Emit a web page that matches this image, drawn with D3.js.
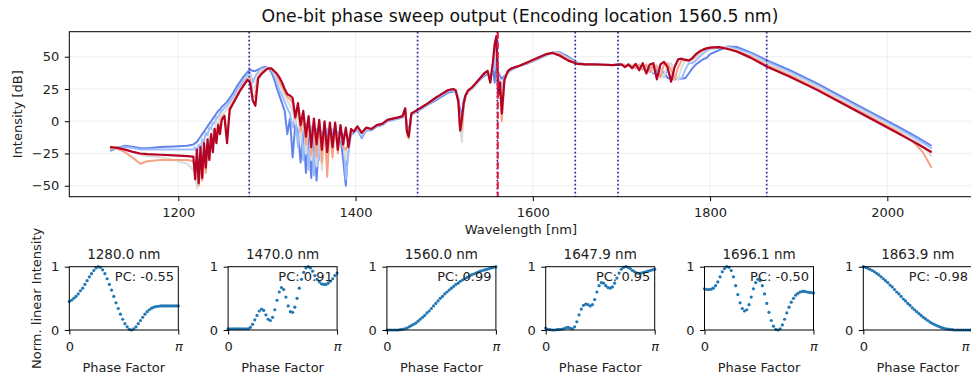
<!DOCTYPE html>
<html>
<head>
<meta charset="utf-8">
<script src="https://cdn.jsdelivr.net/npm/d3@7"></script>
<style>
  body { margin: 0; background: #fff; }
  svg { display: block; font-family: "DejaVu Sans", sans-serif; }
</style>
</head>
<body>
<svg id="chart" width="971" height="374"></svg>
<script>
// wavelength grid of the sweep curves (nm)
var wavelengthNm = [
  1123, 1130, 1140, 1150, 1157, 1165, 1180, 1195, 1210, 1217,
  1219, 1221, 1223, 1225, 1227, 1229, 1231, 1233, 1235, 1237, 1239, 1241, 1243, 1245, 1247, 1249,
  1252, 1255, 1258, 1262, 1266, 1270, 1274, 1278,
  1281, 1284, 1287, 1290, 1293, 1296, 1299, 1302, 1305, 1308, 1311, 1314, 1317, 1320, 1323, 1326, 1329, 1332, 1335, 1338,
  1341, 1344, 1347, 1350, 1353, 1356, 1359, 1362, 1365, 1368, 1371, 1374, 1377, 1380, 1383, 1386, 1389, 1392, 1395, 1398,
  1402, 1407, 1412, 1418, 1424, 1430, 1436, 1442, 1448, 1453, 1456, 1458, 1460, 1463, 1468, 1475, 1482, 1490, 1497, 1504, 1510,
  1513, 1516, 1518, 1520, 1522, 1524, 1527, 1531, 1535, 1540, 1545, 1549, 1552, 1555, 1557, 1559, 1561, 1563, 1565, 1568, 1572, 1576,
  1585, 1595, 1605, 1615, 1622, 1630, 1640, 1650, 1660, 1670, 1680, 1690,
  1700, 1704, 1708, 1712, 1716, 1720, 1724, 1728, 1732, 1736, 1740, 1744, 1748, 1752, 1756, 1760, 1764, 1768, 1772, 1776,
  1780, 1784, 1788, 1792, 1796, 1800,
  1810, 1820, 1830, 1845, 1865, 1890, 1920, 1950, 1980, 2010, 2030, 2040, 2050
];

// intensity (dB) for five phase steps of the sweep, first to last
var sweepStep0 = [
  -23, -21, -19, -20, -21, -21, -20, -19.5, -19, -18,
  -17, -16, -14, -12, -10, -8, -6, -4, -2, 0, 2, 4, 6, 8, 9, 11,
  13, 15, 18, 22, 27, 31, 35, 38,
  40, 39, 39, 40, 41, 42, 42, 41, 38, 33, 26, 20, 14, 8, -10, 2, -28, -2, -8, -32,
  -6, -40, -8, -44, -10, -46, -10, -14, -8, -12, -8, -10, -8, -10, -12, -30, -50, -15, -10, -9,
  -6, -13, -7, -7, -4, -3, 0, 1, 2, 3, 8, -4, -8, 5, 7, 10, 13, 16, 19, 22, 23,
  23, 18, 8, 5, 16, 20, 23, 25, 28, 32, 35, 37, 33, 40, 30, 55, 38, 35, 33, 35, 38, 40,
  43, 45, 48, 51, 53, 53.5, 50, 45.5, 44, 44, 43.8, 43.5,
  44, 43, 44, 42.5, 44, 41, 44, 39, 43, 37, 40, 35, 38, 33.5, 33, 33, 33, 33, 33.5, 37,
  41, 44, 46, 48, 49, 52,
  55, 58, 57.5, 53.5, 47, 39.5, 29.5, 18.5, 7.5, -3.5, -11, -15, -19
];
var sweepStep1 = [
  -22, -20.5, -20, -21, -22, -22, -22, -22, -22, -22,
  -20, -24, -18, -22, -14, -16, -9, -11, -5, -6, -1, -2, 3, 3, 6, 8,
  10, 12, 15, 19, 24, 28, 32, 36,
  38, 30, 35, 38, 40, 41, 41, 41, 40, 36, 31, 24, 20, 15, 10, 6, -5, 4, -20, 2,
  -30, -2, -38, -4, -42, -6, -30, -8, -18, -6, -14, -6, -12, -8, -15, -10, -45, -25, -9, -8,
  -5, -12, -6, -7, -4, -3, 0, 1, 2, 3, 9, -6, -10, 5, 7, 10, 13, 17, 20, 23, 24,
  23, 17, 2, 0, 15, 20, 23, 25, 28, 32, 36, 38, 32, 42, 40, 60, 30, 33, 25, 34, 38, 40,
  43, 45.5, 48.5, 51.5, 53, 53, 49, 45, 44, 44, 43.8, 43.5,
  44, 43.5, 43, 43.5, 42, 43, 40, 43, 38, 42, 36, 41, 34, 40, 33, 36, 33, 33, 40, 45,
  45, 47, 50, 52.5, 54.5, 56,
  57, 57.5, 56, 52.5, 45.5, 38, 28, 17, 6, -5, -12.5, -16.5, -21
];
var sweepStep2 = [
  -21, -21, -22, -24, -26, -27, -28, -30, -33, -38,
  -40, -52, -30, -45, -25, -35, -18, -25, -12, -16, -6, -8, 0, -2, 4, 5,
  7, 9, 12, 16, 21, 25, 29, 34,
  36, 24, 28, 36, 39, 40, 41, 41, 40, 38, 34, 28, 24, 20, 16, 12, 8, -2, 8, -15,
  4, -25, 2, -30, 0, -35, -2, -38, -4, -30, -4, -25, -4, -20, -6, -15, -30, -12, -8, -8,
  -5, -10, -6, -6, -3, -2, 1, 2, 3, 4, 9, -10, -14, 5, 8, 11, 14, 18, 21, 24, 25,
  24, 16, -5, -16, 10, 19, 23, 25, 28, 33, 37, 38, 31, 44, 50, 64, 25, 32, 15, 33, 39, 41,
  43, 45.5, 48.5, 51.5, 53, 52.5, 48.5, 45, 44, 44, 43.8, 43.5,
  44, 44, 42.5, 44, 43, 41, 44, 40, 44, 38, 44, 40, 35, 44, 45, 37, 32, 42, 47, 47,
  47, 49.5, 52.5, 54.5, 56, 57,
  57.5, 57, 55, 51.5, 44.5, 37, 27, 16, 5, -6, -14, -19, -27
];
var sweepStep3 = [
  -21, -21, -24, -29, -33, -31, -30, -30, -30, -31,
  -38, -30, -50, -28, -46, -24, -40, -20, -30, -12, -20, -6, -12, -2, -6, 3,
  5, -12, 10, 15, 20, 25, 29, 33,
  33, 18, 20, 34, 37, 39, 40, 41, 40, 39, 36, 31, 27, 23, 19, 17, 14, 2, 12, -8,
  6, -18, 3, -26, 1, -28, 0, -32, -2, -43, -3, -28, -3, -25, -4, -20, -22, -16, -7, -8,
  -4, -9, -5, -6, -3, -2, 1, 2, 3, 4, 10, -9, -13, 6, 8, 11, 14, 18, 21, 24, 25,
  24, 15, -8, -6, 12, 19, 23, 26, 29, 33, 37, 39, 30, 45, 58, 66, 22, 31, 0, 33, 39, 41,
  43, 46, 49, 52, 53, 52, 48, 44.5, 44, 44, 43.8, 43.5,
  44, 43, 43, 43, 41, 44, 40, 44, 38, 44, 42, 34, 44, 45, 40, 32, 42, 47, 48, 47.5,
  48, 51, 53.5, 55, 56.5, 57,
  57.5, 56.5, 54.5, 50.5, 43, 35.5, 25.5, 14.5, 3.5, -7.5, -16.5, -24, -36
];
var sweepStep4 = [
  -20, -20.5, -22, -24, -25, -25.5, -26, -26.5, -27, -27.5,
  -45, -22, -48, -20, -44, -17, -36, -14, -30, -10, -24, -6, -17, -3, -10, 1,
  4, -17, 9, 14, 19, 24, 28, 32,
  30, 16, 12, 33, 36, 38, 40, 41, 41, 39, 37, 34, 30, 25, 21, 20, 18, 3, 14, -3,
  8, -12, 4, -20, 2, -18, 1, -22, 0, -24, -1, -20, -1, -22, -3, -18, -5, -20, -6, -8,
  -4, -9, -5, -6, -3, -2, 1, 2, 3, 4, 10, -8, -12, 6, 8, 11, 14, 18, 21, 24, 25,
  24, 15, -7, 2, 14, 20, 24, 26, 29, 33, 37, 39, 30, 46, 60, 66, 20, 30, 6, 32, 39, 41,
  43, 46, 49, 52, 53, 51, 47, 44.5, 44, 44, 43.8, 43.5,
  44, 42, 44, 41, 44.5, 39.5, 45, 37, 44, 45, 32.5, 44, 46, 42, 30.6, 42, 48, 48.5, 47.5, 47,
  49, 52, 54, 55.5, 56.5, 57,
  57.5, 56, 54, 49.5, 42, 34.5, 24.5, 13.5, 2.5, -8.5, -16, -20, -24
];

var encodingNm = 1560.5;
var probeNm = [1280.0, 1470.0, 1560.0, 1647.9, 1696.1, 1863.9];
var probePC = [-0.55, 0.91, 0.99, 0.95, -0.50, -0.98];

// normalised linear intensity at each probe wavelength, 50 phase steps from 0 to pi
var probe1280 = [0.45, 0.47, 0.50, 0.53, 0.57, 0.62, 0.66, 0.72, 0.78, 0.84, 0.89, 0.94, 0.98, 1.00, 0.99, 0.95, 0.89, 0.81, 0.72, 0.63,
  0.53, 0.43, 0.34, 0.25, 0.17, 0.10, 0.05, 0.01, 0.00, 0.02, 0.05, 0.10, 0.15, 0.20, 0.25, 0.29, 0.32, 0.345, 0.36, 0.37,
  0.375, 0.38, 0.38, 0.38, 0.38, 0.38, 0.38, 0.38, 0.38, 0.38];
var probe1470 = [0.02, 0.02, 0.02, 0.02, 0.02, 0.02, 0.02, 0.02, 0.02, 0.02, 0.04, 0.09, 0.16, 0.23, 0.30, 0.33, 0.31, 0.24, 0.17, 0.15,
  0.20, 0.32, 0.47, 0.60, 0.67, 0.64, 0.52, 0.38, 0.29, 0.28, 0.36, 0.50, 0.66, 0.80, 0.91, 0.98, 1.00, 0.98, 0.93, 0.86,
  0.80, 0.76, 0.73, 0.72, 0.72, 0.74, 0.77, 0.81, 0.86, 0.90];
var probe1560 = [0.0, 0.0, 0.0, 0.0, 0.0, 0.0, 0.005, 0.01, 0.02, 0.03, 0.05, 0.07, 0.09, 0.11, 0.14, 0.17, 0.20, 0.23, 0.27, 0.30,
  0.34, 0.38, 0.42, 0.46, 0.50, 0.53, 0.57, 0.60, 0.63, 0.66, 0.69, 0.72, 0.74, 0.77, 0.79, 0.81, 0.83, 0.85, 0.87, 0.885,
  0.90, 0.915, 0.93, 0.94, 0.95, 0.96, 0.97, 0.98, 0.99, 1.0];
var probe1648 = [0.03, 0.01, 0.005, 0.0, 0.0, 0.005, 0.01, 0.01, 0.02, 0.035, 0.04, 0.03, 0.02, 0.05, 0.13, 0.24, 0.33, 0.39, 0.41, 0.40,
  0.38, 0.40, 0.48, 0.60, 0.70, 0.75, 0.74, 0.70, 0.67, 0.66, 0.68, 0.74, 0.82, 0.90, 0.96, 0.99, 1.0, 0.99, 0.97, 0.94,
  0.92, 0.90, 0.895, 0.90, 0.91, 0.92, 0.93, 0.94, 0.95, 0.96];
var probe1696 = [0.65, 0.64, 0.64, 0.645, 0.66, 0.70, 0.76, 0.84, 0.92, 0.97, 1.0, 0.99, 0.94, 0.84, 0.70, 0.56, 0.43, 0.34, 0.30, 0.32,
  0.40, 0.52, 0.65, 0.75, 0.80, 0.78, 0.70, 0.57, 0.42, 0.28, 0.15, 0.06, 0.01, 0.0, 0.02, 0.08, 0.17, 0.27, 0.36, 0.44,
  0.50, 0.55, 0.58, 0.60, 0.61, 0.61, 0.60, 0.595, 0.59, 0.585];
var probe1864 = [1.0, 0.99, 0.975, 0.96, 0.94, 0.92, 0.895, 0.87, 0.84, 0.81, 0.78, 0.75, 0.71, 0.68, 0.64, 0.60, 0.57, 0.53, 0.49, 0.46,
  0.42, 0.39, 0.35, 0.32, 0.29, 0.26, 0.23, 0.20, 0.175, 0.15, 0.125, 0.105, 0.085, 0.07, 0.055, 0.04, 0.03, 0.02, 0.015, 0.01,
  0.005, 0.0, 0.0, 0.0, 0.0, 0.0, 0.0, 0.0, 0.0, 0.0];

var sweep = [sweepStep0, sweepStep1, sweepStep2, sweepStep3, sweepStep4];
var probes = [probe1280, probe1470, probe1560, probe1648, probe1696, probe1864];
var sweepColors = ["#6384eb", "#9dbdfe", "#dcdcdc", "#f5a385", "#b40426"];

sweep.forEach(function(s, i) {
  if (s.length !== wavelengthNm.length) console.warn("sweep", i, s.length, wavelengthNm.length);
});

var svg = d3.select("#chart");
var font = 13;

// ---- top panel ----
var box = {left: 69.3, right: 972.4, top: 31.7, bottom: 196.7};

var x = d3.scaleLinear().domain([1077, 2096]).range([box.left, box.right]);
var y = d3.scaleLinear().domain([-58.5, 69.4]).range([box.bottom, box.top]);

svg.append("text")
    .attr("x", 520)
    .attr("y", 22)
    .attr("text-anchor", "middle")
    .attr("font-size", 17.3)
    .attr("fill", "#111")
    .text("One-bit phase sweep output (Encoding location " + encodingNm.toFixed(1) + " nm)");

svg.append("defs").append("clipPath").attr("id", "clipTop")
  .append("rect")
    .attr("x", box.left).attr("y", box.top)
    .attr("width", box.right - box.left).attr("height", box.bottom - box.top);

var xTicks = [1200, 1400, 1600, 1800, 2000];
var yTicks = [-50, -25, 0, 25, 50];

var grid = svg.append("g").attr("stroke", "#ebebeb").attr("stroke-width", 0.8);
grid.selectAll(".gx").data(xTicks).enter().append("line")
    .attr("x1", d => x(d)).attr("x2", d => x(d))
    .attr("y1", box.top).attr("y2", box.bottom);
grid.selectAll(".gy").data(yTicks).enter().append("line")
    .attr("x1", box.left).attr("x2", box.right)
    .attr("y1", d => y(d)).attr("y2", d => y(d));

var line = d3.line()
    .x((d, i) => x(wavelengthNm[i]))
    .y(d => y(d));

svg.append("g").attr("clip-path", "url(#clipTop)")
  .selectAll("path").data(sweep).enter().append("path")
    .attr("d", line)
    .attr("fill", "none")
    .attr("stroke", (d, i) => sweepColors[i])
    .attr("stroke-width", (d, i) => i === sweep.length - 1 ? 2.2 : 2.0)
    .attr("stroke-linejoin", "round");

// probe wavelengths and encoding location
svg.append("g").selectAll("line").data(probeNm).enter().append("line")
    .attr("x1", d => x(d)).attr("x2", d => x(d))
    .attr("y1", box.top).attr("y2", box.bottom)
    .attr("stroke", "#2a2a9e")
    .attr("stroke-width", 1.7)
    .attr("stroke-dasharray", "1.7,2.3");

svg.append("line")
    .attr("x1", x(encodingNm)).attr("x2", x(encodingNm))
    .attr("y1", box.top).attr("y2", box.bottom)
    .attr("stroke", "#e8183c")
    .attr("stroke-width", 2)
    .attr("stroke-dasharray", "7,3");

svg.append("rect")
    .attr("x", box.left).attr("y", box.top)
    .attr("width", box.right - box.left).attr("height", box.bottom - box.top)
    .attr("fill", "none").attr("stroke", "#000").attr("stroke-width", 1);

function styleAxis(g) {
  g.select(".domain").remove();
  g.selectAll(".tick line").attr("stroke", "#000").attr("stroke-width", 1);
  g.selectAll(".tick text").attr("fill", "#222").attr("font-size", font)
    .attr("font-family", "DejaVu Sans");
}

svg.append("g")
    .attr("transform", "translate(0," + box.bottom + ")")
    .call(d3.axisBottom(x).tickValues(xTicks).tickSize(4.5).tickPadding(7).tickFormat(d3.format("d")))
    .call(styleAxis);

svg.append("g")
    .attr("transform", "translate(" + box.left + ",0)")
    .call(d3.axisLeft(y).tickValues(yTicks).tickSize(4.5).tickPadding(5.5))
    .call(styleAxis);

svg.append("text")
    .attr("x", (box.left + box.right) / 2)
    .attr("y", 234)
    .attr("text-anchor", "middle")
    .attr("font-size", font)
    .attr("fill", "#222")
    .text("Wavelength [nm]");

svg.append("text")
    .attr("transform", "translate(22," + (box.top + box.bottom) / 2 + ") rotate(-90)")
    .attr("text-anchor", "middle")
    .attr("font-size", font)
    .attr("fill", "#222")
    .text("Intensity [dB]");

// ---- probe panels ----
var panelTop = 266.7, panelBottom = 330, panelWidth = 109, panelStep = 158.8, panelLeft0 = 69.3;
var phases = d3.range(probe1280.length).map(i => i / (probe1280.length - 1) * Math.PI);

probes.forEach(function(values, k) {
  var L = panelLeft0 + k * panelStep;
  var px = d3.scaleLinear().domain([0, Math.PI]).range([L, L + panelWidth]);
  var py = d3.scaleLinear().domain([0, 1]).range([panelBottom, panelTop]);
  var g = svg.append("g");

  g.append("text")
      .attr("x", L + panelWidth / 2)
      .attr("y", 259)
      .attr("text-anchor", "middle")
      .attr("font-size", 13.5)
      .attr("fill", "#222")
      .text(probeNm[k].toFixed(1) + " nm");

  g.selectAll("circle").data(values).enter().append("circle")
      .attr("cx", (d, i) => px(phases[i]))
      .attr("cy", d => py(d))
      .attr("r", 1.6)
      .attr("fill", "#1f77b4");

  g.append("rect")
      .attr("x", L).attr("y", panelTop)
      .attr("width", panelWidth).attr("height", panelBottom - panelTop)
      .attr("fill", "none").attr("stroke", "#000").attr("stroke-width", 1);

  g.append("text")
      .attr("x", L + panelWidth * 0.96)
      .attr("y", panelTop + 14)
      .attr("text-anchor", "end")
      .attr("font-size", font)
      .attr("fill", "#222")
      .text("PC: " + probePC[k].toFixed(2));

  var ax = g.append("g")
      .attr("transform", "translate(0," + panelBottom + ")")
      .call(d3.axisBottom(px).tickValues([0, Math.PI]).tickSize(4.5).tickPadding(7)
        .tickFormat(d => d === 0 ? "0" : "\u03c0"))
      .call(styleAxis);
  ax.selectAll(".tick text").filter(d => d !== 0).attr("font-style", "italic");
  // the last panel runs into the page edge, keep its pi label on the page
  if (k === probes.length - 1) {
    ax.selectAll(".tick text").filter(d => d !== 0).attr("text-anchor", "end").attr("dx", "-0.25em");
  }

  g.append("g")
      .attr("transform", "translate(" + L + ",0)")
      .call(d3.axisLeft(py).tickValues([0, 1]).tickSize(4.5).tickPadding(5.5).tickFormat(d3.format("d")))
      .call(styleAxis);

  g.append("text")
      .attr("x", L + panelWidth / 2)
      .attr("y", 371.5)
      .attr("text-anchor", "middle")
      .attr("font-size", font)
      .attr("fill", "#222")
      .text("Phase Factor");
});

svg.append("text")
    .attr("transform", "translate(41," + (panelTop + panelBottom) / 2 + ") rotate(-90)")
    .attr("text-anchor", "middle")
    .attr("font-size", font)
    .attr("fill", "#222")
    .text("Norm. linear Intensity");
</script>
</body>
</html>
